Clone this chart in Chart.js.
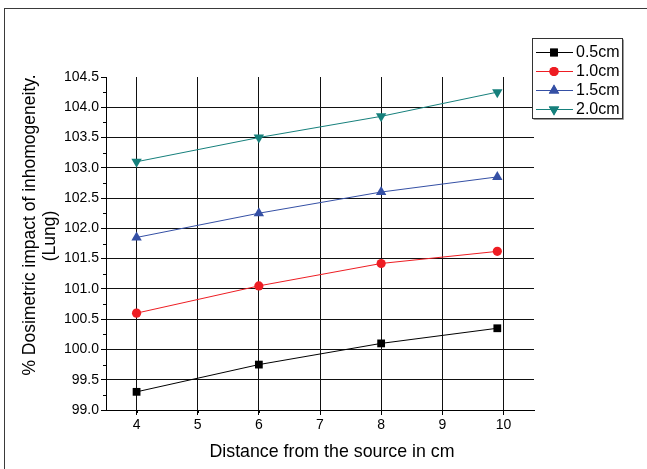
<!DOCTYPE html>
<html>
<head>
<meta charset="utf-8">
<script src="https://cdn.jsdelivr.net/npm/chart.js@4/dist/chart.umd.min.js"></script>
<style>
  html, body { margin: 0; padding: 0; background: #fff; }
  #wrap { width: 647px; height: 469px; position: relative; }
</style>
</head>
<body>
<div id="wrap"><canvas id="c"></canvas></div>
<script>
// ---- data ----
const xValues = [4, 6, 8, 9.9];
const series05 = [99.3, 99.75, 100.1, 100.35];
const series10 = [100.6, 101.05, 101.42, 101.62];
const series15 = [101.85, 102.25, 102.6, 102.85];
const series20 = [103.1, 103.5, 103.85, 104.25];
const seriesLabels = ['0.5cm', '1.0cm', '1.5cm', '2.0cm'];
const xTickValues = [4, 5, 6, 7, 8, 9, 10];
const xTitle = 'Distance from the source in cm';
const yTitle = ['% Dosimetric impact of inhomogeneity.', '(Lung)'];

const FONT = "'Liberation Sans', Arial, sans-serif";
Chart.defaults.font.family = FONT;
Chart.defaults.color = '#000';

function pts(ys) { return xValues.map((x, i) => ({ x: x, y: ys[i] })); }

const styles = [
  { color: '#000000', pointStyle: 'rect', radius: 5.5, rotation: 0 },
  { color: '#ee1d23', pointStyle: 'circle', radius: 4.6, rotation: 0 },
  { color: '#3550a5', pointStyle: 'triangle', radius: 6, rotation: 0 },
  { color: '#16807c', pointStyle: 'triangle', radius: 6, rotation: 180 }
];
const allSeries = [series05, series10, series15, series20];

const datasets = allSeries.map((s, i) => ({
  label: seriesLabels[i],
  data: pts(s),
  borderColor: styles[i].color,
  backgroundColor: styles[i].color,
  borderWidth: 1,
  pointStyle: styles[i].pointStyle,
  pointRadius: styles[i].radius,
  pointRotation: styles[i].rotation,
  pointBorderWidth: 0,
  pointHoverRadius: styles[i].radius,
  tension: 0,
  fill: false
}));

const framePlugin = {
  id: 'frame',
  beforeDraw(chart) {
    const ctx = chart.ctx;
    ctx.save();
    ctx.fillStyle = '#fff';
    ctx.fillRect(0, 0, chart.width, chart.height);
    ctx.strokeStyle = '#3a3a3a';
    ctx.lineWidth = 1;
    ctx.strokeRect(4.5, 8.5, 700, 600);
    ctx.restore();
  }
};

const titlesPlugin = {
  id: 'axisTitles',
  afterDraw(chart) {
    const ctx = chart.ctx;
    ctx.save();
    ctx.fillStyle = '#000';
    ctx.textAlign = 'center';
    ctx.textBaseline = 'middle';
    // y title (two rotated lines)
    const pos = [[30, 225], [50, 236]];
    ctx.font = '17.5px ' + FONT;
    yTitle.forEach((t, i) => {
      ctx.save();
      ctx.translate(pos[i][0], pos[i][1]);
      ctx.rotate(-Math.PI / 2);
      ctx.fillText(t, 0, 0);
      ctx.restore();
    });
    // x title
    ctx.font = '17.8px ' + FONT;
    ctx.fillText(xTitle, 332, 452);
    ctx.restore();
  }
};

const minorTicksPlugin = {
  id: 'minorTicks',
  afterDraw(chart) {
    const ctx = chart.ctx;
    const xs = chart.scales.x, ys = chart.scales.y;
    const a = chart.chartArea;
    ctx.save();
    ctx.strokeStyle = '#000';
    ctx.lineWidth = 1;
    ctx.beginPath();
    for (let v = xs.min + 0.5; v <= xs.max + 1e-9; v += 1) {
      const px = Math.round(xs.getPixelForValue(v)) + 0.5;
      ctx.moveTo(px, a.bottom);
      ctx.lineTo(px, a.bottom + 3);
    }
    for (let v = ys.min + 0.25; v < ys.max; v += 0.5) {
      const py = Math.round(ys.getPixelForValue(v)) + 0.5;
      ctx.moveTo(a.left - 3, py);
      ctx.lineTo(a.left, py);
    }
    ctx.stroke();
    ctx.restore();
  }
};

function drawMarker(ctx, st, x, y) {
  if (Chart.helpers && Chart.helpers.drawPoint) {
    Chart.helpers.drawPoint(ctx, {
      pointStyle: st.pointStyle, radius: st.radius, rotation: st.rotation, borderWidth: 0
    }, x, y);
    ctx.fill();
  }
}

const legendPlugin = {
  id: 'boxLegend',
  afterDraw(chart) {
    const ctx = chart.ctx;
    const L = 532.5, T = 38.5, W = 90, H = 80;
    ctx.save();
    ctx.fillStyle = '#fff';
    ctx.fillRect(L, T, W, H);
    ctx.strokeStyle = '#9a9a9a';
    ctx.lineWidth = 1;
    ctx.beginPath();
    ctx.moveTo(L + W + 1, T + 1); ctx.lineTo(L + W + 1, T + H + 1); ctx.lineTo(L + 1, T + H + 1);
    ctx.stroke();
    ctx.strokeStyle = '#333';
    ctx.strokeRect(L, T, W, H);
    const rows = [52, 71, 90, 109];
    ctx.font = '16px ' + FONT;
    ctx.textBaseline = 'middle';
    ctx.textAlign = 'left';
    rows.forEach((ry, i) => {
      const st = styles[i];
      ctx.strokeStyle = st.color;
      ctx.fillStyle = st.color;
      ctx.lineWidth = 1;
      ctx.beginPath();
      ctx.moveTo(536, ry + 0.5);
      ctx.lineTo(573, ry + 0.5);
      ctx.stroke();
      drawMarker(ctx, st, 554, ry + 0.5);
      ctx.fillStyle = '#000';
      ctx.fillText(seriesLabels[i], 576, ry + 1);
    });
    ctx.restore();
  }
};

new Chart(document.getElementById('c'), {
  type: 'line',
  data: { datasets: datasets },
  options: {
    responsive: true,
    maintainAspectRatio: false,
    devicePixelRatio: 1,
    animation: false,
    layout: { padding: { left: 0, top: 77, right: 113, bottom: 0 } },
    plugins: { legend: { display: false }, tooltip: { enabled: false } },
    scales: {
      x: {
        type: 'linear',
        min: 3.5,
        max: 10.5,
        afterBuildTicks(scale) {
          scale.ticks = xTickValues.map(v => ({ value: v }));
        },
        afterFit(scale) { scale.height = 59; },
        ticks: {
          font: { size: 14 },
          color: '#000',
          padding: 2,
          maxRotation: 0,
          callback: v => String(v)
        },
        grid: {
          color: '#111',
          lineWidth: 1,
          drawTicks: true,
          tickLength: 5,
          tickColor: '#000'
        },
        border: { display: true, color: '#000', width: 1 },
        title: { display: false }
      },
      y: {
        type: 'linear',
        min: 99,
        max: 104.5,
        afterFit(scale) { scale.width = 106; },
        ticks: {
          stepSize: 0.5,
          font: { size: 14 },
          color: '#000',
          padding: 2,
          callback: v => Number(v).toFixed(1)
        },
        grid: {
          color: ctx => (ctx.tick && Math.abs(ctx.tick.value - 104.5) < 1e-6) ? 'rgba(0,0,0,0)' : '#111',
          lineWidth: 1,
          drawTicks: true,
          tickLength: 5,
          tickColor: '#000'
        },
        border: { display: true, color: '#000', width: 1 },
        title: { display: false }
      }
    }
  },
  plugins: [framePlugin, minorTicksPlugin, legendPlugin, titlesPlugin]
});
</script>
</body>
</html>
